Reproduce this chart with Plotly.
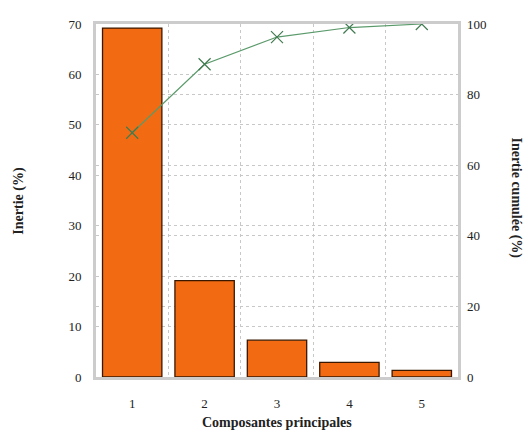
import plotly.graph_objects as go

composantes = [1, 2, 3, 4, 5]
inertie = [69.2, 19.1, 7.3, 2.9, 1.3]
inertie_cumulee = [69.2, 88.6, 96.3, 99.0, 100.0]

FONT = "Liberation Serif"

fig = go.Figure()
fig.add_trace(go.Bar(
    x=composantes, y=inertie,
    marker=dict(color="#F26B12", line=dict(color="#3a1800", width=1.3)),
    width=0.82, yaxis="y", showlegend=False,
))
fig.add_trace(go.Scatter(
    x=composantes, y=inertie_cumulee, yaxis="y2",
    mode="lines+markers",
    line=dict(color="#5a9a6a", width=1.2),
    marker=dict(symbol="x-thin", size=12, line=dict(color="#3f7a4f", width=1.2)),
    showlegend=False,
))

grid = dict(gridcolor="#c8c8c8", griddash="dot", gridwidth=1)

fig.update_layout(
    width=516, height=425,
    margin=dict(l=88, r=66, t=9, b=56),
    paper_bgcolor="white", plot_bgcolor="white",
    font=dict(family=FONT, size=13, color="#222"),
    xaxis=dict(
        range=[0.5, 5.5], tickvals=composantes, showgrid=False,
        showline=True, linecolor="#cccccc", linewidth=3, mirror=True,
        ticks="", ticklabelstandoff=12, zeroline=False,
        minor=dict(tickvals=[1.5, 2.5, 3.5, 4.5], showgrid=True, **grid, ticks=""),
    ),
    yaxis=dict(
        range=[0, 70], dtick=10, showgrid=True, **grid,
        showline=True, linecolor="#cccccc", linewidth=3, mirror=True,
        ticks="", ticklabelstandoff=9, zeroline=False,
    ),
    yaxis2=dict(
        range=[0, 100], dtick=20, overlaying="y", side="right",
        showgrid=True, **grid, ticks="", ticklabelstandoff=8, zeroline=False,
    ),
    annotations=[
        dict(text="<b>Inertie (%)</b>", xref="paper", yref="paper",
             x=-0.215, y=0.5, xanchor="center", yanchor="middle",
             textangle=-90, showarrow=False,
             font=dict(family=FONT, size=14, color="#222")),
        dict(text="<b>Inertie cumulée (%)</b>", xref="paper", yref="paper",
             x=1.16, y=0.506, xanchor="center", yanchor="middle",
             textangle=90, showarrow=False,
             font=dict(family=FONT, size=14, color="#222")),
        dict(text="<b>Composantes principales</b>", xref="paper", yref="paper",
             x=0.5, y=-0.128, xanchor="center", yanchor="middle", showarrow=False,
             font=dict(family=FONT, size=14, color="#222")),
    ],
)

fig.write_html("out.html")
